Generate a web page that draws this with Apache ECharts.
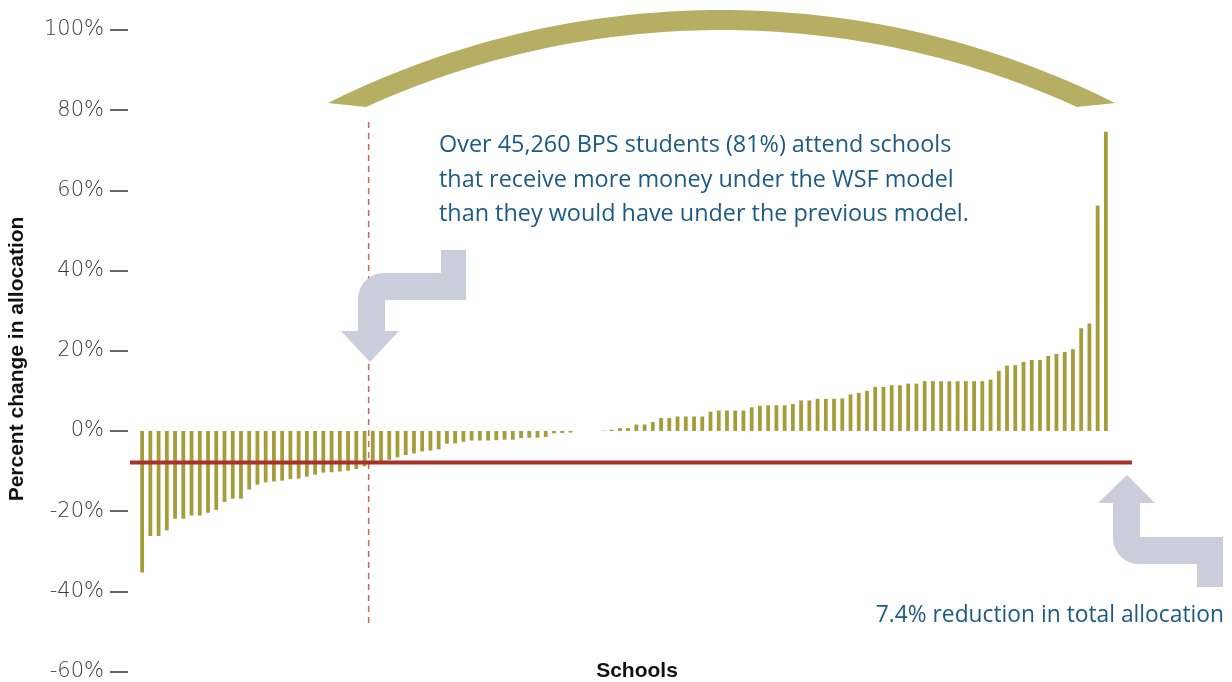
<!DOCTYPE html>
<html>
<head>
<meta charset="utf-8">
<script src="https://cdn.jsdelivr.net/npm/echarts@6/dist/echarts.min.js"></script>
<style>
html,body{margin:0;padding:0;background:#fff;}
#chart{width:1232px;height:682px;}
</style>
</head>
<body>
<div id="chart"></div>
<script>
// Percent change in allocation per school, sorted ascending
const changes = [
  -35.3, -26.2, -26.2, -24.8, -21.9, -21.9, -21.1, -21.1, -20.4, -19.7,
  -17.7, -16.9, -16.9, -14.6, -13.4, -12.8, -12.6, -12.4, -12.0, -11.9,
  -11.4, -10.9, -10.4, -10.3, -10.1, -9.9, -9.5, -8.8,
  -8.0, -7.5, -7.2, -6.6, -6.0, -5.6, -5.1, -4.9, -4.6, -3.2, -3.1, -2.7,
  -2.4, -2.4, -2.4,
  -2.3, -2.2, -2.2, -1.8, -1.7, -1.7, -1.5, -0.6, -0.5, -0.4,
  0, 0, 0,
  0.1, 0.3, 0.7, 0.7, 1.6, 1.6, 2.2, 3.2, 3.2, 3.6,
  3.6, 3.6, 3.6, 4.8, 5.1, 5.1, 5.1, 5.1, 5.9, 6.3,
  6.4, 6.4, 6.4, 6.7, 7.6, 7.6, 8.0, 8.0, 8.0, 8.1,
  9.1, 9.5,
  10.0, 11.0, 11.0, 11.4, 11.4, 11.8, 11.8, 12.4, 12.4, 12.4,
  12.4, 12.4, 12.4, 12.4, 12.4, 12.8, 15.0, 16.3, 16.4, 17.2,
  17.7, 17.7, 18.7, 19.2, 19.7, 20.4, 25.6, 26.8, 56.2, 74.6
];
const schools = changes.map((_, i) => 'School ' + (i + 1));
const yTicks = { min: -60, max: 100, interval: 20 };
const reductionLevel = -7.85;     // drawn position of the total-allocation line
const splitAfterIndex = 27;       // dashed divider between school 28 and 29
const noteLines = [
  'Over 45,260 BPS students (81%) attend schools',
  'that receive more money under the WSF model',
  'than they would have under the previous model.'
];
const reductionNote = '7.4% reduction in total allocation';
const yAxisTitle = 'Percent change in allocation';
const xAxisTitle = 'Schools';

const chart = echarts.init(document.getElementById('chart'), null, { renderer: 'canvas' });

chart.setOption({
  animation: false,
  backgroundColor: '#ffffff',
  grid: { left: 138, right: 122, top: 30, bottom: 10, containLabel: false },
  xAxis: {
    type: 'category',
    data: schools,
    boundaryGap: true,
    axisLine: { show: false },
    axisTick: { show: false },
    axisLabel: { show: false },
    splitLine: { show: false }
  },
  yAxis: {
    type: 'value',
    min: yTicks.min,
    max: yTicks.max,
    interval: yTicks.interval,
    offset: 10,
    axisLine: { show: false },
    axisTick: { show: true, length: 18, inside: false, lineStyle: { color: '#333', width: 1.5 } },
    axisLabel: {
      formatter: '{value}%',
      margin: 24,
      color: '#3a3a3a',
      fontFamily: 'DejaVu Sans',
      fontWeight: 200,
      fontSize: 21
    },
    splitLine: { show: false }
  },
  series: [{
    type: 'bar',
    data: changes,
    barWidth: 3.8,
    itemStyle: { color: '#a59c3a' },
    z: 2
  }]
});

function arcPts(cx, cy, r, a0, a1, n) {
  const out = [];
  for (let i = 0; i <= n; i++) {
    const a = a0 + (a1 - a0) * i / n;
    out.push([cx + r * Math.cos(a), cy + r * Math.sin(a)]);
  }
  return out;
}

function drawDecor() {
  const p27 = chart.convertToPixel({ gridIndex: 0 }, [splitAfterIndex, 0]);
  const p28 = chart.convertToPixel({ gridIndex: 0 }, [splitAfterIndex + 1, 0]);
  const dashX = (p27[0] + p28[0]) / 2;
  const redY = chart.convertToPixel({ gridIndex: 0 }, [0, reductionLevel])[1];

  // arc band
  const cx = 721.5, cy = 889, Ro = 879, Ri = 859;
  const yOuterEnd = 103, yInnerEnd = 107;
  const aO = Math.asin((cy - yOuterEnd) / Ro);
  const aI = Math.asin((cy - yInnerEnd) / Ri);
  const pts = [];
  const N = 80;
  for (let i = 0; i <= N; i++) {
    const a = (Math.PI - aO) + (aO - (Math.PI - aO)) * (i / N);
    pts.push([cx + Ro * Math.cos(a), cy - Ro * Math.sin(a)]);
  }
  for (let i = 0; i <= N; i++) {
    const a = aI + ((Math.PI - aI) - aI) * (i / N);
    pts.push([cx + Ri * Math.cos(a), cy - Ri * Math.sin(a)]);
  }

  // bent arrow pointing down (upper-left)
  const arrow1 = [[441, 250], [466, 250], [466, 300], [385, 300], [385, 331], [399, 331],
    [370, 362], [341, 331], [358, 331], [358, 299]]
    .concat(arcPts(384, 299, 26, Math.PI, 1.5 * Math.PI, 16))
    .concat([[441, 273]]);
  // bent arrow pointing up (lower-right)
  const arrow2 = [[1127, 475], [1155, 503], [1140, 503], [1140, 537], [1223, 537], [1223, 587],
    [1197, 587], [1197, 564], [1139, 564]]
    .concat(arcPts(1139, 538, 26, 0.5 * Math.PI, Math.PI, 16))
    .concat([[1113, 503], [1098, 503]]);

  const noteFont = { fontFamily: 'Open Sans', fontSize: 23.4, fill: '#1d5a84' };

  chart.setOption({
    graphic: [
      { type: 'polygon', shape: { points: pts }, style: { fill: '#b6ae62' }, z: 5 },
      { type: 'line', shape: { x1: dashX, y1: 122, x2: dashX, y2: 627 },
        style: { stroke: '#c4675f', lineWidth: 1.5, lineDash: [6, 5] }, z: 3 },
      { type: 'line', shape: { x1: 130, y1: redY, x2: 1132, y2: redY },
        style: { stroke: '#a8322b', lineWidth: 4 }, z: 6 },
      { type: 'polygon', z: 7, shape: { points: arrow1 }, style: { fill: '#cacedb' } },
      { type: 'polygon', z: 7, shape: { points: arrow2 }, style: { fill: '#cacedb' } },
      { type: 'text', x: 439, y: 145, z: 8,
        style: Object.assign({ text: noteLines[0], textVerticalAlign: 'middle' }, noteFont) },
      { type: 'text', x: 439, y: 180, z: 8,
        style: Object.assign({ text: noteLines[1], textVerticalAlign: 'middle' }, noteFont) },
      { type: 'text', x: 439, y: 214, z: 8,
        style: Object.assign({ text: noteLines[2], textVerticalAlign: 'middle' }, noteFont) },
      { type: 'text', x: 1224, y: 616, z: 8,
        style: { text: reductionNote, textAlign: 'right', textVerticalAlign: 'middle',
                 fontFamily: 'Open Sans', fontSize: 22.8, fill: '#1d5a84' } },
      { type: 'text', x: 17, y: 359, rotation: Math.PI / 2, z: 8,
        style: { text: yAxisTitle, textAlign: 'center', textVerticalAlign: 'middle',
                 fontFamily: 'Liberation Sans', fontWeight: 'bold', fontSize: 21, fill: '#111' } },
      { type: 'text', x: 637, y: 671, z: 8,
        style: { text: xAxisTitle, textAlign: 'center', textVerticalAlign: 'middle',
                 fontFamily: 'Liberation Sans', fontWeight: 'bold', fontSize: 21, fill: '#111' } }
    ]
  });
}
drawDecor();
</script>
</body>
</html>
